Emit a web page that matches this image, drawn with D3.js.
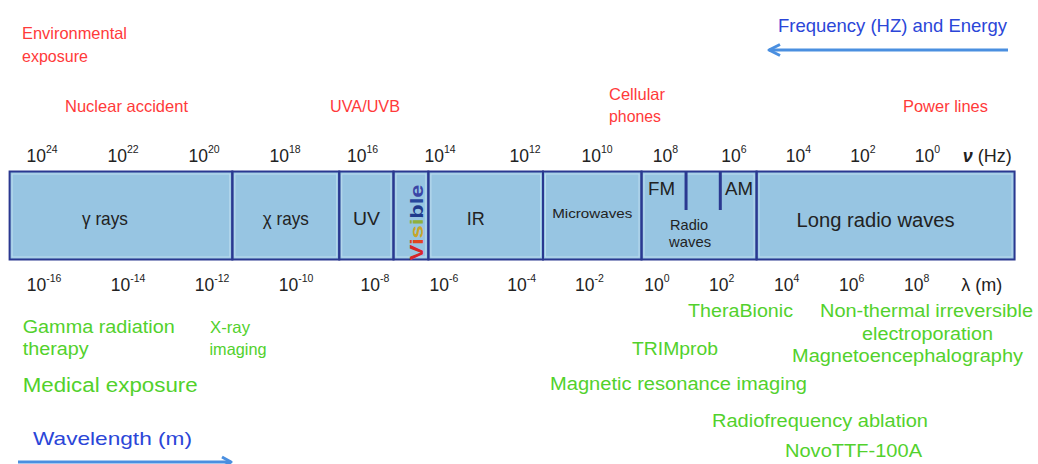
<!DOCTYPE html>
<html>
<head>
<meta charset="utf-8">
<script src="https://cdn.jsdelivr.net/npm/d3@7"></script>
<style>
  html, body { margin: 0; padding: 0; background: #ffffff; }
  svg { display: block; }
  text { font-family: "Liberation Sans", Arial, Helvetica, sans-serif; }
</style>
</head>
<body>
<svg id="chart" width="1038" height="464"></svg>
<script>
// ---------------- DATA ----------------
const freqExponents = [24, 22, 20, 18, 16, 14, 12, 10, 8, 6, 4, 2, 0];
const waveExponents = [-16, -14, -12, -10, -8, -6, -4, -2, 0, 2, 4, 6, 8];

const bandNames   = ["γ rays", "χ rays", "UV", "Visible", "IR", "Microwaves", "Radio waves", "Long radio waves"];
const bandFromExp = [24.8, 19.3, 16.6, 15.2, 14.3, 11.5, 8.7, 5.3];   // log10 frequency (Hz), high edge
const bandToExp   = [19.3, 16.6, 15.2, 14.3, 11.5, 8.7, 5.3, -2.7];   // log10 frequency (Hz), low edge
const radioSubBreaks = [7.4, 6.4];      // FM | AM separators inside radio waves
const radioSubLabels = ["FM", "AM"];

const visibleLetters = ["V", "i", "s", "i", "b", "l", "e"];

const environmentalLabels = ["Nuclear accident", "UVA/UVB", "Cellular phones", "Power lines"];
const medicalLabels = ["Gamma radiation therapy", "X-ray imaging", "TheraBionic",
  "Non-thermal irreversible electroporation", "TRIMprob", "Magnetoencephalography",
  "Magnetic resonance imaging", "Radiofrequency ablation", "NovoTTF-100A"];

// ---------------- SCALES ----------------
const xFreq = d3.scaleLinear()
  .domain([24, 18, 14, 12, 10, 6, 0])
  .range([42, 285, 440, 525, 597, 734, 927.5]);
const xWave = d3.scaleLinear()
  .domain([-16, -10, -8, -6, -4, 0, 2, 8])
  .range([44, 296, 375, 444, 521.7, 657, 721.7, 916.7]);

const svg = d3.select("#chart");
const RED = "#ff3a3a", GREEN = "#52d12c", BLUE = "#2b46d8", ARROW = "#4a8fe0";
const INK = "#222222";
const BAND_FILL = "#97c5e2", BAND_STROKE = "#2a3890", BAND_INNER = "#bcdcee";
const bandTop = 171.5, bandBottom = 259.5;

function addText(str, x, y, o) {
  o = o || {};
  const t = svg.append("text")
    .attr("x", x).attr("y", y)
    .attr("font-size", o.size || 16)
    .attr("fill", o.color || INK)
    .attr("text-anchor", o.anchor || "start")
    .text(str);
  if (o.weight) t.attr("font-weight", o.weight);
  if (o.width) t.attr("textLength", o.width).attr("lengthAdjust", "spacingAndGlyphs");
  return t;
}

// ---------------- BANDS ----------------
const bands = bandNames.map((n, i) => ({ name: n, from: bandFromExp[i], to: bandToExp[i] }));
const bg = svg.append("g");
bg.selectAll("rect.band").data(bands).join("rect")
  .attr("class", "band")
  .attr("x", d => xFreq(d.from))
  .attr("y", bandTop)
  .attr("width", d => xFreq(d.to) - xFreq(d.from))
  .attr("height", bandBottom - bandTop)
  .attr("fill", BAND_FILL);
bg.selectAll("rect.inner").data(bands).join("rect")
  .attr("class", "inner")
  .attr("x", d => xFreq(d.from) + 2.5)
  .attr("y", bandTop + 2.5)
  .attr("width", d => xFreq(d.to) - xFreq(d.from) - 5)
  .attr("height", bandBottom - bandTop - 5)
  .attr("fill", "none").attr("stroke", BAND_INNER).attr("stroke-width", 1);
bg.selectAll("rect.edge").data(bands).join("rect")
  .attr("class", "edge")
  .attr("x", d => xFreq(d.from))
  .attr("y", bandTop)
  .attr("width", d => xFreq(d.to) - xFreq(d.from))
  .attr("height", bandBottom - bandTop)
  .attr("fill", "none").attr("stroke", BAND_STROKE).attr("stroke-width", 2);

// FM / AM separators
bg.selectAll("line.sub").data(radioSubBreaks).join("line")
  .attr("x1", d => xFreq(d)).attr("x2", d => xFreq(d))
  .attr("y1", bandTop).attr("y2", 210)
  .attr("stroke", BAND_STROKE).attr("stroke-width", 3);

// ---------------- BAND LABELS ----------------
const cx = i => (xFreq(bands[i].from) + xFreq(bands[i].to)) / 2;
addText("γ rays", cx(0) - 16, 225, { size: 19, anchor: "middle", width: 46 });
addText("χ rays", cx(1), 225, { size: 19, anchor: "middle", width: 46 });
addText("UV", cx(2), 225, { size: 19, anchor: "middle", width: 27 });
addText("IR", cx(4) - 10, 225, { size: 19, anchor: "middle", width: 18 });
addText("Microwaves", cx(5), 218, { size: 13.5, anchor: "middle", width: 80 });
addText("Radio", cx(6) - 10, 230, { size: 14.5, anchor: "middle", width: 38 });
addText("waves", cx(6) - 9, 247, { size: 14.5, anchor: "middle", width: 42 });
addText(radioSubLabels[0], xFreq(bands[6].from) + 6.5, 195, { size: 17.5, width: 27 });
addText(radioSubLabels[1], xFreq(bands[6].to) - 3.5, 195, { size: 17.5, anchor: "end", width: 28 });
addText("Long radio waves", cx(7) - 10, 226.5, { size: 20, anchor: "middle", width: 158 });

// Visible (rotated, rainbow letters)
const visColors = ["#d8262a", "#e2441f", "#c9a52a", "#8fb03a", "#1f3a8c", "#27479c", "#3a45a6"];
const vis = svg.append("text")
  .attr("transform", `translate(${cx(3) + 12.5},${bandBottom + 1}) rotate(-90)`)
  .attr("font-size", 19).attr("font-weight", "bold")
  .attr("textLength", 76).attr("lengthAdjust", "spacingAndGlyphs");
vis.selectAll("tspan").data(visibleLetters).join("tspan")
  .attr("fill", (d, i) => visColors[i]).text(d => d);

// ---------------- TICK LABELS ----------------
function powerLabel(exp, x, y) {
  const t = svg.append("text").attr("x", x).attr("y", y)
    .attr("text-anchor", "middle").attr("fill", INK).attr("font-size", 17.5);
  t.append("tspan").text("10");
  t.append("tspan").attr("font-size", 10.5).attr("dy", -8.5)
    .text(exp < 0 ? "-" + Math.abs(exp) : String(exp));
}
freqExponents.forEach(e => powerLabel(e, xFreq(e), 161.7));
waveExponents.forEach(e => powerLabel(e, xWave(e), 290.5));

const nu = svg.append("text").attr("x", xFreq(-1.85)).attr("y", 161.7)
  .attr("text-anchor", "middle").attr("font-size", 18).attr("fill", INK);
nu.append("tspan").attr("font-style", "italic").attr("font-weight", "bold").text("ν");
nu.append("tspan").text(" (Hz)");
const lam = svg.append("text").attr("x", xWave(10)).attr("y", 290.5)
  .attr("text-anchor", "middle").attr("font-size", 18).attr("fill", INK);
lam.append("tspan").text("λ");
lam.append("tspan").text(" (m)");

// ---------------- ENVIRONMENTAL (red) ----------------
addText("Environmental", 22, 39, { size: 16.5, color: RED, width: 105 });
addText("exposure", 22, 62, { size: 16.5, color: RED, width: 66 });
addText(environmentalLabels[0], 65, 111.7, { size: 16.5, color: RED, width: 123 });
addText(environmentalLabels[1], 330, 111.7, { size: 16.5, color: RED, width: 70 });
addText("Cellular", 609, 99.5, { size: 16.5, color: RED, width: 56 });
addText("phones", 609, 122, { size: 16.5, color: RED, width: 52 });
addText(environmentalLabels[3], 903, 111.7, { size: 16.5, color: RED, width: 85 });

// ---------------- MEDICAL (green) ----------------
addText("Gamma radiation", 22.7, 333, { size: 17.5, color: GREEN, width: 152 });
addText("therapy", 22.7, 355, { size: 17.5, color: GREEN, width: 66 });
addText("X-ray", 210, 333, { size: 16.5, color: GREEN, width: 40 });
addText("imaging", 209.5, 355, { size: 16.5, color: GREEN, width: 57 });
addText("Medical exposure", 22.7, 391.7, { size: 19.5, color: GREEN, width: 175 });
addText(medicalLabels[2], 688, 316.7, { size: 17.5, color: GREEN, width: 105 });
addText("Non-thermal irreversible", 820, 316.7, { size: 17.5, color: GREEN, width: 213 });
addText("electroporation", 862, 340, { size: 17.5, color: GREEN, width: 131 });
addText(medicalLabels[4], 632, 355, { size: 17.5, color: GREEN, width: 86 });
addText(medicalLabels[5], 792, 361.7, { size: 17.5, color: GREEN, width: 231 });
addText(medicalLabels[6], 550, 390, { size: 17.5, color: GREEN, width: 257 });
addText(medicalLabels[7], 712, 426.7, { size: 17.5, color: GREEN, width: 216 });
addText(medicalLabels[8], 785, 456.7, { size: 17.5, color: GREEN, width: 137 });

// ---------------- DIRECTION ARROWS ----------------
addText("Frequency (HZ) and Energy", 778, 32, { size: 18.5, color: BLUE, width: 229 });
svg.append("line").attr("x1", 769).attr("x2", 1008).attr("y1", 50).attr("y2", 50)
  .attr("stroke", ARROW).attr("stroke-width", 3);
svg.append("path").attr("d", "M780,44.5 L769,50 L780,55.5")
  .attr("fill", "none").attr("stroke", ARROW).attr("stroke-width", 3).attr("stroke-linejoin", "round");

addText("Wavelength (m)", 33, 445, { size: 19, color: BLUE, width: 159 });
svg.append("line").attr("x1", 18).attr("x2", 231).attr("y1", 462).attr("y2", 462)
  .attr("stroke", ARROW).attr("stroke-width", 3);
svg.append("path").attr("d", "M222,457 L231,462 L222,467")
  .attr("fill", "none").attr("stroke", ARROW).attr("stroke-width", 3).attr("stroke-linejoin", "round");
</script>
</body>
</html>
